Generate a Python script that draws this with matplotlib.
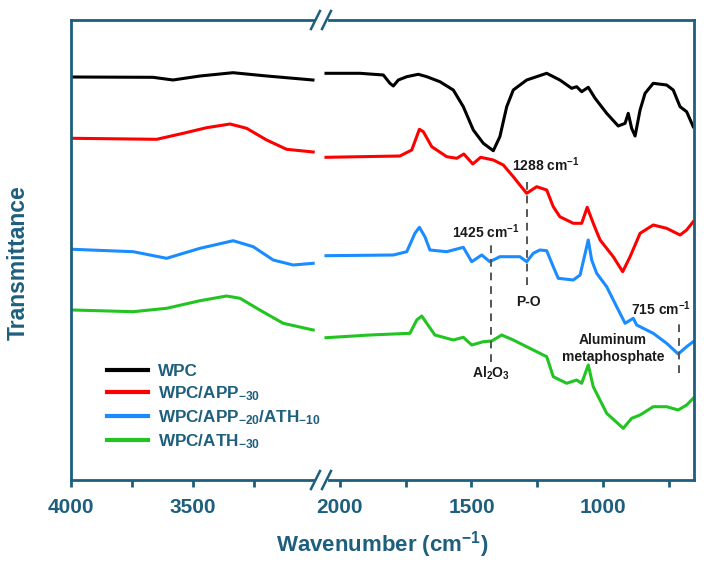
import matplotlib.pyplot as plt
from matplotlib.lines import Line2D

plt.rcParams['font.family'] = ['Liberation Sans', 'DejaVu Sans']
plt.rcParams['mathtext.fontset'] = 'custom'
plt.rcParams['mathtext.rm'] = 'Liberation Sans'
plt.rcParams['mathtext.bf'] = 'Liberation Sans:bold'
plt.rcParams['mathtext.it'] = 'Liberation Sans:italic'

# ---- data (transmittance in arbitrary, offset units) ----
# high-wavenumber segment (4000-3000 cm-1)
wn_hi_black = [4000, 3664, 3582, 3471, 3336, 3197, 3008]
t_hi_black = [403, 402.7, 400, 404, 407.3, 404, 400]
wn_hi_red = [3993, 3649, 3540, 3444, 3348, 3280, 3198, 3116, 3007]
t_hi_red = [341.7, 340.7, 346.7, 352.3, 356, 351.7, 340, 330.7, 328]
wn_hi_blue = [3993, 3745, 3608, 3471, 3335, 3253, 3171, 3089, 3007]
t_hi_blue = [230.7, 228.3, 221.7, 231.7, 239.3, 233.3, 220, 215, 216.7]
wn_hi_green = [3993, 3745, 3608, 3471, 3362, 3307, 3226, 3130, 3007]
t_hi_green = [170, 168.3, 171.7, 179.3, 184, 181.7, 170, 156.7, 150]

# low-wavenumber segment (2050-650 cm-1)
wn_lo_black = [2053, 1924, 1835, 1810, 1797, 1778, 1746, 1702, 1670, 1620, 1569,
               1531, 1493, 1455, 1417, 1392, 1366, 1341, 1290, 1214, 1164, 1119,
               1100, 1081, 1056, 1030, 986, 942, 916, 904, 891, 878, 859, 840,
               809, 758, 733, 707, 682, 657]
t_lo_black = [406.7, 406.7, 405, 396.7, 394, 400, 403.3, 405.7, 403.3, 398.3, 390,
              373.3, 350, 336.7, 329.3, 343.3, 373.3, 390, 400, 406.7, 400, 391.7,
              393.3, 388.3, 392.7, 381.7, 366.7, 354, 356.7, 366.7, 351.7, 344, 370,
              386.7, 396.7, 395, 390, 373.3, 368.3, 353.3]
wn_lo_red = [2053, 1772, 1727, 1698, 1683, 1651, 1594, 1556, 1529, 1495, 1465,
             1417, 1379, 1341, 1316, 1290, 1252, 1214, 1189, 1164, 1113, 1081,
             1060, 1037, 1011, 961, 925, 897, 859, 809, 758, 707, 682, 657]
t_lo_red = [322.7, 324, 330, 350.7, 348.3, 333.3, 323.3, 321.7, 326, 316, 322.7,
            320, 315, 303.3, 295, 286.7, 293.3, 290, 273.3, 263.3, 256.7, 256.7,
            272.7, 256.7, 240, 223.3, 208.3, 223.3, 246.7, 255, 251.7, 245, 250, 258.3]
wn_lo_blue = [2053, 1797, 1746, 1715, 1698, 1677, 1658, 1594, 1531, 1499, 1461,
              1430, 1392, 1316, 1290, 1265, 1240, 1214, 1189, 1170, 1113, 1087,
              1056, 1043, 1024, 986, 948, 916, 885, 872, 809, 758, 714, 682, 657]
t_lo_blue = [224.3, 225, 228.3, 246.7, 252.7, 243.3, 230, 228.3, 232.7, 218.3, 225,
             218.3, 223.3, 223.3, 218.3, 226.7, 230, 229.3, 213.3, 201.7, 200, 205,
             240, 220, 206.7, 193.3, 173.3, 156.7, 161.7, 155, 146.7, 136.7, 126,
             133.3, 138.3]
wn_lo_green = [2053, 1886, 1734, 1708, 1689, 1670, 1639, 1569, 1531, 1499, 1455,
               1423, 1385, 1341, 1316, 1214, 1189, 1138, 1100, 1081, 1056, 1037,
               986, 923, 891, 859, 809, 758, 714, 682, 657]
t_lo_green = [142.3, 145, 146.7, 160, 164, 156.7, 145, 140, 142.7, 135, 138.3,
              139, 145, 140, 136.7, 123.3, 103.3, 96.7, 100, 96.7, 115, 93.3,
              66.7, 51.7, 61.7, 65, 73.3, 73.3, 70, 75, 81.7]

labels = ['WPC', r'WPC/APP$_{\mathbf{-30}}$',
          r'WPC/APP$_{\mathbf{-20}}$/ATH$_{\mathbf{-10}}$', r'WPC/ATH$_{\mathbf{-30}}$']
colors = ['#000000', '#ff0000', '#1a8cff', '#22c422']

hi = [(wn_hi_black, t_hi_black), (wn_hi_red, t_hi_red),
      (wn_hi_blue, t_hi_blue), (wn_hi_green, t_hi_green)]
lo = [(wn_lo_black, t_lo_black), (wn_lo_red, t_lo_red),
      (wn_lo_blue, t_lo_blue), (wn_lo_green, t_lo_green)]

teal = '#1d5f7d'
W, H = 704, 568

fig = plt.figure(figsize=(7.04, 5.68), dpi=100)
ax1 = fig.add_axes([71 / W, 88 / H, 250 / W, 460 / H])
ax2 = fig.add_axes([321 / W, 88 / H, 373 / W, 460 / H])

for (x, y), c, lab in zip(hi, colors, labels):
    ax1.plot(x, y, color=c, lw=2.2, label=lab)
for (x, y), c in zip(lo, colors):
    ax2.plot(x, y, color=c, lw=2.2)

ax1.set_xlim(4000, 2975)
ax2.set_xlim(2072, 654)
ax1.set_xticks([4000, 3500])
ax1.set_xticks([3750, 3250], minor=True)
ax2.set_xticks([2000, 1500, 1000])
ax2.set_xticks([1750, 1250, 750], minor=True)
for ax in (ax1, ax2):
    ax.set_ylim(0, 460)
    ax.set_yticks([])
    for s in ax.spines.values():
        s.set_color(teal)
        s.set_linewidth(2.0)
    ax.tick_params(axis='x', which='both', direction='out', length=5, width=2,
                   color=teal, labelcolor=teal, labelsize=15, pad=8)
    for t in ax.get_xticklabels():
        t.set_fontweight('bold')
ax1.spines['right'].set_visible(False)
ax2.spines['left'].set_visible(False)

fig.text(18 / W, 1 - 263 / H, 'Transmittance', fontsize=16.5, fontweight='bold',
         color=teal, rotation=90, ha='center', va='center')
fig.text(382 / W, 1 - 545 / H, 'Wavenumber (cm$^{\\mathbf{-1}}$)', fontsize=16,
         fontweight='bold', color=teal, ha='center', va='center')

leg = ax1.legend(loc='center left', bbox_to_anchor=(0.144, 0.158), frameon=False,
                 fontsize=12.3, handlelength=2.4, handletextpad=0.6,
                 labelspacing=0.3, borderpad=0, borderaxespad=0)
for t in leg.get_texts():
    t.set_color(teal)
    t.set_fontweight('bold')
for h in leg.get_lines():
    h.set_linewidth(3)

# annotations
dash = dict(color='#555555', lw=1.4, ls=(0, (4, 3)))
ax2.plot([1288, 1288], [195, 302], **dash)
ax2.plot([1425, 1425], [118, 237], **dash)
ax2.plot([712, 712], [107, 158], **dash)
txt = dict(fontsize=10, fontweight='bold', color='#1a1a1a', ha='center', va='center')
ax2.text(1217, 315, '1288 cm$^{\\mathbf{-1}}$', **txt)
ax2.text(1445, 248, '1425 cm$^{\\mathbf{-1}}$', **txt)
ax2.text(1285, 178, 'P-O', **txt)
ax2.text(1426, 107, 'Al$_{\\mathbf{2}}$O$_{\\mathbf{3}}$', **txt)
ax2.text(780, 171, '715 cm$^{\\mathbf{-1}}$', **txt)
ax2.text(962, 131.5, 'Aluminum\nmetaphosphate', linespacing=1.2, **txt)


# axis break marks
def px(x, y):
    return x / W, 1 - y / H


for yb in (20, 480):
    fig.add_artist(Line2D(*zip(px(317, yb), px(326, yb)), color='white', lw=3))
    for x0 in (311, 322):
        fig.add_artist(Line2D(*zip(px(x0, yb + 9), px(x0 + 9, yb - 9)),
                              color=teal, lw=1.8))

fig.savefig('out.png', dpi=100)
